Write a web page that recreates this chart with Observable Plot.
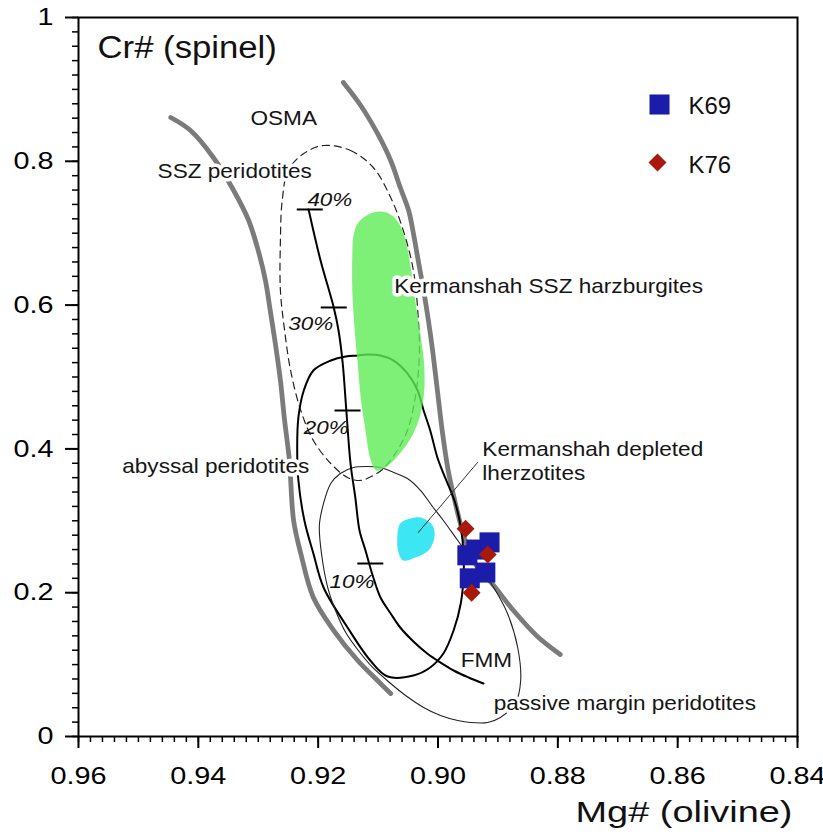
<!DOCTYPE html>
<html>
<head>
<meta charset="utf-8">
<script src="https://cdn.jsdelivr.net/npm/d3@7"></script>
<script src="https://cdn.jsdelivr.net/npm/@observablehq/plot@0.6"></script>
<style>
  html, body { margin: 0; padding: 0; background: #fff; }
  svg { display: block; }
</style>
</head>
<body>
<div id="chart"></div>
<script>
// ---------- axes ----------
const xTicks = [0.96, 0.94, 0.92, 0.90, 0.88, 0.86, 0.84];
const xTickLabels = ["0.96", "0.94", "0.92", "0.90", "0.88", "0.86", "0.84"];
const yTicks = [0, 0.2, 0.4, 0.6, 0.8, 1];
const yTickLabels = ["0", "0.2", "0.4", "0.6", "0.8", "1"];
const xMinor = d3.range(0, 61).map(i => 0.84 + i * 0.002);
const yMinor = d3.range(0, 51).map(i => i * 0.02);

// ---------- samples: [Mg# olivine, Cr# spinel] ----------
const seriesNames = ["K69", "K76"];
const k69 = [[0.8951, 0.252], [0.8936, 0.260], [0.8914, 0.270], [0.8947, 0.220], [0.8921, 0.228]];
const k76 = [[0.8954, 0.289], [0.8917, 0.253], [0.8944, 0.200]];

// ---------- OSMA bounds (olivine-spinel mantle array) ----------
const osmaLeft = [[0.9446,0.8609],[0.9413,0.8428],[0.9375,0.8053],[0.9341,0.7594],[0.9316,0.7177],[0.9300,0.6759],[0.9288,0.6342],[0.9280,0.5925],[0.9271,0.5438],[0.9263,0.4951],[0.9256,0.4395],[0.9248,0.3839],[0.9241,0.3004],[0.9229,0.2545],[0.9208,0.1933],[0.9174,0.1474],[0.9134,0.1057],[0.9101,0.0779],[0.9079,0.0598]];
const osmaRight = [[0.9158,0.9096],[0.9129,0.8776],[0.9101,0.8387],[0.9079,0.8011],[0.9063,0.7636],[0.9049,0.7316],[0.9041,0.6996],[0.9033,0.6620],[0.9024,0.6203],[0.9016,0.5786],[0.9009,0.5369],[0.9001,0.4812],[0.8993,0.4256],[0.8983,0.3700],[0.8974,0.3352],[0.8964,0.3004],[0.8952,0.2656],[0.8936,0.2378],[0.8907,0.2100],[0.8874,0.1752],[0.8834,0.1391],[0.8796,0.1140]];

// ---------- fields ----------
const sszField = [[0.9191,0.8220],[0.9146,0.8150],[0.9108,0.7914],[0.9079,0.7497],[0.9058,0.7038],[0.9041,0.6481],[0.9033,0.5828],[0.9031,0.5369],[0.9034,0.4951],[0.9041,0.4576],[0.9051,0.4256],[0.9068,0.3978],[0.9091,0.3727],[0.9108,0.3630],[0.9129,0.3561],[0.9151,0.3602],[0.9179,0.3797],[0.9208,0.4117],[0.9229,0.4534],[0.9246,0.5090],[0.9256,0.5647],[0.9263,0.6203],[0.9263,0.6898],[0.9260,0.7455],[0.9250,0.7872],[0.9224,0.8109]];
const harzField = [[0.9113,0.7274],[0.9096,0.7302],[0.9079,0.7260],[0.9063,0.7107],[0.9054,0.6898],[0.9046,0.6551],[0.9038,0.6064],[0.9029,0.5577],[0.9023,0.5160],[0.9024,0.4715],[0.9034,0.4353],[0.9051,0.4075],[0.9074,0.3839],[0.9091,0.3727],[0.9103,0.3700],[0.9113,0.3866],[0.9121,0.4256],[0.9129,0.4715],[0.9134,0.5188],[0.9139,0.5647],[0.9143,0.6203],[0.9143,0.6690],[0.9141,0.6968],[0.9133,0.7149]];
const lherzField = [[0.9063,0.2962],[0.9046,0.3032],[0.9029,0.3046],[0.9009,0.2935],[0.9006,0.2768],[0.9016,0.2587],[0.9038,0.2490],[0.9058,0.2448],[0.9066,0.2559],[0.9068,0.2754]];
const abyssalField = [[0.9134,0.5299],[0.9118,0.5313],[0.9096,0.5299],[0.9074,0.5229],[0.9051,0.5049],[0.9034,0.4812],[0.9024,0.4534],[0.9013,0.4256],[0.9001,0.3880],[0.8991,0.3658],[0.8979,0.3421],[0.8971,0.3241],[0.8964,0.3004],[0.8959,0.2726],[0.8957,0.2309],[0.8962,0.1850],[0.8974,0.1474],[0.8991,0.1154],[0.9013,0.0960],[0.9041,0.0848],[0.9084,0.0834],[0.9113,0.1057],[0.9151,0.1516],[0.9191,0.2072],[0.9208,0.2545],[0.9223,0.3004],[0.9233,0.3561],[0.9235,0.4019],[0.9233,0.4437],[0.9224,0.4812],[0.9208,0.5090],[0.9179,0.5229],[0.9154,0.5285]];
const passiveField = [[0.9141,0.3741],[0.9118,0.3755],[0.9096,0.3741],[0.9074,0.3672],[0.9051,0.3588],[0.9029,0.3421],[0.9008,0.3185],[0.8991,0.3004],[0.8967,0.2726],[0.8946,0.2490],[0.8924,0.2281],[0.8907,0.2072],[0.8884,0.1711],[0.8867,0.1238],[0.8862,0.0779],[0.8871,0.0459],[0.8896,0.0264],[0.8917,0.0195],[0.8946,0.0195],[0.8967,0.0223],[0.8996,0.0292],[0.9024,0.0403],[0.9054,0.0570],[0.9079,0.0737],[0.9109,0.0960],[0.9129,0.1154],[0.9154,0.1446],[0.9171,0.1752],[0.9184,0.2072],[0.9194,0.2517],[0.9198,0.2935],[0.9191,0.3241],[0.9179,0.3519],[0.9163,0.3658]];

// ---------- FMM melting trend ----------
const meltingTrend = [[0.9216,0.7330],[0.9196,0.6620],[0.9174,0.5967],[0.9166,0.5647],[0.9159,0.5188],[0.9153,0.4534],[0.9146,0.3797],[0.9138,0.3324],[0.9131,0.2865],[0.9121,0.2587],[0.9109,0.2239],[0.9096,0.1933],[0.9079,0.1711],[0.9063,0.1516],[0.9041,0.1321],[0.9018,0.1154],[0.8996,0.1029],[0.8974,0.0918],[0.8949,0.0821],[0.8924,0.0737]];
const meltPct = ["40%", "30%", "20%", "10%"];
const meltTickMg = [0.9214, 0.9174, 0.9151, 0.9113];
const meltTickCr = [0.7330, 0.5967, 0.4534, 0.2406];
const meltLabelMg = [0.9218, 0.9250, 0.9224, 0.9181];
const meltLabelCr = [0.7385, 0.5647, 0.4214, 0.2072];

// ---------- leader line ----------
const leaderMg = [0.9033, 0.8934];
const leaderCr = [0.2837, 0.3811];

// ---------- annotations ----------
const annoText = ["OSMA", "SSZ peridotites", "Kermanshah SSZ harzburgites", "abyssal peridotites", "Kermanshah depleted", "lherzotites", "FMM", "passive margin peridotites"];
const annoMg = [0.9313, 0.9468, 0.9073, 0.9527, 0.8926, 0.8926, 0.8962, 0.8907];
const annoCr = [0.8498, 0.7761, 0.6175, 0.3658, 0.3908, 0.3574, 0.0960, 0.0362];
const titleY = "Cr# (spinel)";
const titleX = "Mg# (olivine)";

// ---------- build tables ----------
const annotations = annoText.map((t, i) => ({text: t, mg: annoMg[i], cr: annoCr[i]}));
const meltTicks = meltPct.map((p, i) => ({pct: p, mg: meltTickMg[i], cr: meltTickCr[i], lmg: meltLabelMg[i], lcr: meltLabelCr[i]}));
const leader = leaderMg.map((m, i) => [m, leaderCr[i]]);

const X = d => d[0], Y = d => d[1];
const colorK69 = "#1c1caa";
const colorK76 = "#a8190c";
const gray = "#7b7b7b";
const FONT = "'Liberation Sans', Arial, Helvetica, sans-serif";

const hTick = {draw(ctx, size) { const h = Math.sqrt(size / Math.PI); ctx.moveTo(-h, 0); ctx.lineTo(h, 0); }};

const chart = Plot.plot({
  width: 823,
  height: 839,
  marginLeft: 78,
  marginRight: 26,
  marginTop: 17,
  marginBottom: 103,
  style: {fontFamily: FONT, background: "#fff", color: "#000"},
  x: {domain: [0.96, 0.84], label: null},
  y: {domain: [0, 1], label: null},
  marks: [
    // OSMA
    Plot.line(osmaLeft, {x: X, y: Y, stroke: gray, strokeWidth: 4.8, curve: "catmull-rom", strokeLinecap: "round"}),
    Plot.line(osmaRight, {x: X, y: Y, stroke: gray, strokeWidth: 4.8, curve: "catmull-rom", strokeLinecap: "round"}),
    // SSZ peridotites field (dashed)
    Plot.line(sszField, {x: X, y: Y, stroke: "#222", strokeWidth: 1.2, strokeDasharray: "7,5", curve: "catmull-rom-closed"}),
    // abyssal peridotites
    Plot.line(abyssalField, {x: X, y: Y, stroke: "#000", strokeWidth: 2, curve: "catmull-rom-closed"}),
    // passive margin peridotites
    Plot.line(passiveField, {x: X, y: Y, stroke: "#222", strokeWidth: 1.1, curve: "catmull-rom-closed"}),
    // melting trend
    Plot.line(meltingTrend, {x: X, y: Y, stroke: "#000", strokeWidth: 2, curve: "catmull-rom"}),
    Plot.dot(meltTicks, {x: "mg", y: "cr", symbol: hTick, r: 13, fill: "none", stroke: "#000", strokeWidth: 2}),
    // Kermanshah fields
    Plot.line(harzField, {x: X, y: Y, fill: "#5eec55", fillOpacity: 0.8, stroke: "none", curve: "catmull-rom-closed"}),
    Plot.line(lherzField, {x: X, y: Y, fill: "#3ce6f2", stroke: "none", curve: "catmull-rom-closed"}),
    Plot.line(leader, {x: X, y: Y, stroke: "#333", strokeWidth: 1}),
    // samples
    Plot.dot(k69, {x: X, y: Y, symbol: "square", r: 11.3, fill: colorK69}),
    Plot.dot(k76, {x: X, y: Y, symbol: "diamond2", r: 8.1, fill: colorK76}),
    // labels
    Plot.text(meltTicks, {x: "lmg", y: "lcr", text: "pct", textAnchor: "start", lineAnchor: "bottom", fontSize: 19, fontStyle: "italic", fill: "#111"}),
    Plot.text(annotations, {x: "mg", y: "cr", text: "text", textAnchor: "start", lineAnchor: "bottom", fontSize: 21, fill: "#151515", stroke: "#fff", strokeWidth: 7, strokeLinejoin: "round"}),
    Plot.text([titleY], {text: d => d, frameAnchor: "top-left", dx: 19, dy: 40, textAnchor: "start", lineAnchor: "bottom", fontSize: 31, fill: "#111"}),
    Plot.text([titleX], {text: d => d, frameAnchor: "bottom-right", dx: -5, dy: 85, textAnchor: "end", lineAnchor: "bottom", fontSize: 30, fill: "#111"}),
    // legend
    Plot.dot([seriesNames[0]], {frameAnchor: "top-right", dx: -138, dy: 87, symbol: "square", r: 11.3, fill: colorK69}),
    Plot.dot([seriesNames[1]], {frameAnchor: "top-right", dx: -140, dy: 145, symbol: "diamond2", r: 8.1, fill: colorK76}),
    Plot.text([seriesNames[0]], {text: d => d, frameAnchor: "top-right", dx: -109, dy: 96, textAnchor: "start", lineAnchor: "bottom", fontSize: 23, fill: "#111"}),
    Plot.text([seriesNames[1]], {text: d => d, frameAnchor: "top-right", dx: -109, dy: 155, textAnchor: "start", lineAnchor: "bottom", fontSize: 23, fill: "#111"}),
    // axes
    Plot.axisX(xMinor, {anchor: "bottom", tickSize: 6, strokeWidth: 1.5, fill: "none", label: null, tickFormat: () => ""}),
    Plot.axisY(yMinor, {anchor: "left", tickSize: 6, strokeWidth: 1.5, fill: "none", label: null, tickFormat: () => ""}),
    Plot.axisX(xTicks, {anchor: "bottom", tickSize: 12, tickPadding: 18, strokeWidth: 2, fontSize: 24, label: null,
      tickFormat: d => xTickLabels[xTicks.indexOf(d)]}),
    Plot.axisY(yTicks, {anchor: "left", tickSize: 13, tickPadding: 12, strokeWidth: 2, fontSize: 24, label: null,
      tickFormat: d => yTickLabels[yTicks.indexOf(d)]}),
    Plot.frame({stroke: "#000", strokeWidth: 2})
  ]
});

document.getElementById("chart").append(chart);

// horizontal stretch of the (wide) original lettering
const factorByText = new Map([
  ...annoText.map(t => [t, 1.075]),
  ...meltPct.map(t => [t, 1.18]),
  [titleY, 1.12],
  ...seriesNames.map(t => [t, 1.04])
]);
const widthByText = new Map([[titleX, 217]]);
chart.querySelectorAll("text").forEach(t => {
  const s = t.textContent.trim();
  if (!s) { t.remove(); return; }
  const g = t.closest("g[aria-label]");
  const axisLabel = g && /tick label/.test(g.getAttribute("aria-label"));
  const w = t.getComputedTextLength();
  if (!(w > 0)) return;
  let target = null;
  if (widthByText.has(s)) target = widthByText.get(s);
  else if (axisLabel) target = w * 1.2;
  else if (factorByText.has(s)) target = w * factorByText.get(s);
  if (target) { t.setAttribute("textLength", target.toFixed(1)); t.setAttribute("lengthAdjust", "spacingAndGlyphs"); }
});
</script>
</body>
</html>
